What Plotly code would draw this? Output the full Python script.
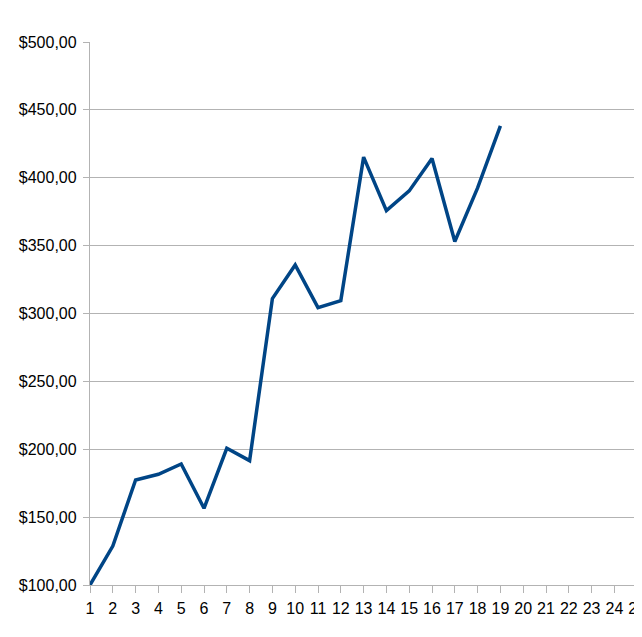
import plotly.graph_objects as go

periods = list(range(1, 20))
values = [100.0, 128.7, 177.4, 181.6, 189.2, 156.5, 200.7, 191.6, 311.0,
          335.8, 304.3, 309.5, 415.2, 375.8, 390.3, 414.2, 353.0, 392.5, 438.2]
x_ticks = list(range(1, 26))
y_ticks = [100, 150, 200, 250, 300, 350, 400, 450, 500]
y_labels = ["$%d,00" % v for v in y_ticks]

fig = go.Figure()
fig.add_trace(go.Scatter(
    x=periods, y=values, mode="lines",
    line=dict(color="#004586", width=3.5),
    showlegend=False, hoverinfo="skip",
))

fig.update_layout(
    width=634, height=621,
    margin=dict(l=82, r=0, t=34, b=44, autoexpand=False),
    paper_bgcolor="white", plot_bgcolor="white",
    font=dict(family="Liberation Sans, Arial, sans-serif", size=16, color="black"),
)
fig.update_xaxes(
    range=[1, 25.21], tickmode="array", tickvals=x_ticks,
    ticktext=[str(t) for t in x_ticks],
    showgrid=False, zeroline=False, automargin=False,
    showline=True, linecolor="#b3b3b3", linewidth=1.3,
    ticks="outside", ticklen=7, tickcolor="#b3b3b3", tickwidth=1.3,
    ticklabelstandoff=2, ticklabeloverflow="allow",
)
fig.update_yaxes(
    range=[100, 500], tickmode="array", tickvals=y_ticks, ticktext=y_labels,
    showgrid=True, gridcolor="#b3b3b3", gridwidth=1.3, zeroline=False,
    automargin=False,
    showline=True, linecolor="#b3b3b3", linewidth=1.3,
    ticks="outside", ticklen=6, tickcolor="#b3b3b3", tickwidth=1.3,
    ticklabelstandoff=3,
)

fig.write_html("out.html")
